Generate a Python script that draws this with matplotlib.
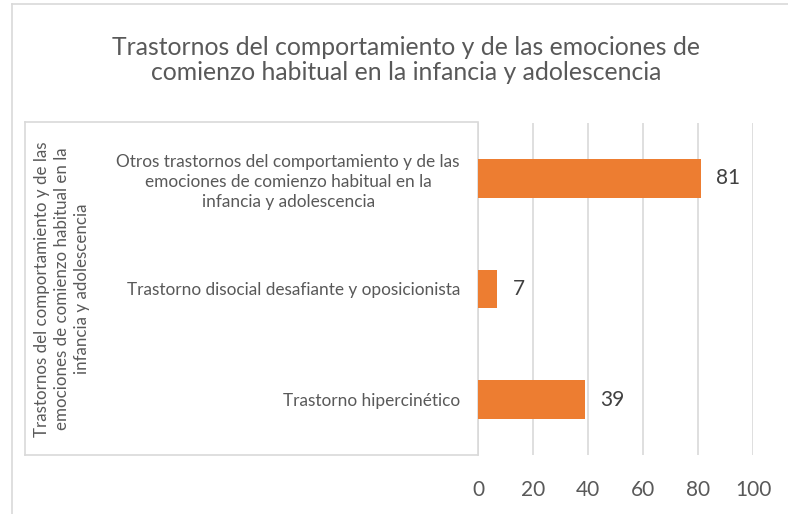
import matplotlib.pyplot as plt
from matplotlib.lines import Line2D

plt.rcParams['font.family'] = ['Lato', 'DejaVu Sans']

# Datos
categorias = [
    'Otros trastornos del comportamiento y de las\nemociones de comienzo habitual en la\ninfancia y adolescencia',
    'Trastorno disocial desafiante y oposicionista',
    'Trastorno hipercinético',
]
valores = [81, 7, 39]
grupo = 'Trastornos del comportamiento y de las\nemociones de comienzo habitual en la\ninfancia y adolescencia'
titulo = ('Trastornos del comportamiento y de las emociones de\n'
          'comienzo habitual en la infancia y adolescencia')
ticks_x = [0, 20, 40, 60, 80, 100]

W, H = 788, 514
fig = plt.figure(figsize=(W / 100, H / 100), dpi=100)
fig.patch.set_facecolor('white')

def fx(px):
    return px / W

def fy(py):
    return 1 - py / H

# area del grafico
x0, x1, y0, y1 = 478, 753, 123, 455
ax = fig.add_axes([fx(x0), fy(y1), fx(x1 - x0), (y1 - y0) / H])

pos = list(range(len(categorias)))
ax.barh(pos, valores, height=0.35, color='#ED7D31', zorder=3)
ax.set_ylim(len(categorias) - 0.5, -0.5)
ax.set_xlim(0, 100)
ax.set_xticks(ticks_x)
ax.grid(axis='x', color='#D9D9D9', linewidth=1.2, zorder=0)
ax.set_axisbelow(True)

for s in ['top', 'right', 'bottom']:
    ax.spines[s].set_visible(False)
ax.spines['left'].set_color('#D9D9D9')
ax.spines['left'].set_linewidth(1.2)

ax.tick_params(axis='x', length=0, pad=18, labelsize=15, labelcolor='#595959')
ax.set_yticks(pos)
ax.set_yticklabels(categorias, fontsize=12.4, color='#595959',
                   multialignment='center', linespacing=1.3)
ax.tick_params(axis='y', length=0, pad=13)

# etiquetas de datos
for p, v in zip(pos, valores):
    ax.annotate(str(v), (v, p), xytext=(11, 0), textcoords='offset points',
                ha='left', va='center', fontsize=15, color='#404040')

# caja de la categoria de grupo
lc = '#D9D9D9'
fig.add_artist(Line2D([fx(25), fx(x0)], [fy(122), fy(122)], color=lc, lw=1.2))
fig.add_artist(Line2D([fx(25), fx(x0)], [fy(455), fy(455)], color=lc, lw=1.2))
fig.add_artist(Line2D([fx(25), fx(25)], [fy(122), fy(455)], color=lc, lw=1.2))

fig.text(fx(62), fy(289), grupo, rotation=90, ha='center', va='center',
         multialignment='center', fontsize=12.2, color='#595959', linespacing=1.3)

# borde exterior
fig.add_artist(Line2D([fx(12), fx(12)], [fy(4), 0], color=lc, lw=1.2))
fig.add_artist(Line2D([fx(12), 1], [fy(4), fy(4)], color=lc, lw=1.2))

# titulo
fig.text(fx(406), fy(60), titulo, ha='center', va='center', fontsize=17.8,
         color='#595959', linespacing=1.15)

fig.savefig('out.png', dpi=100)
